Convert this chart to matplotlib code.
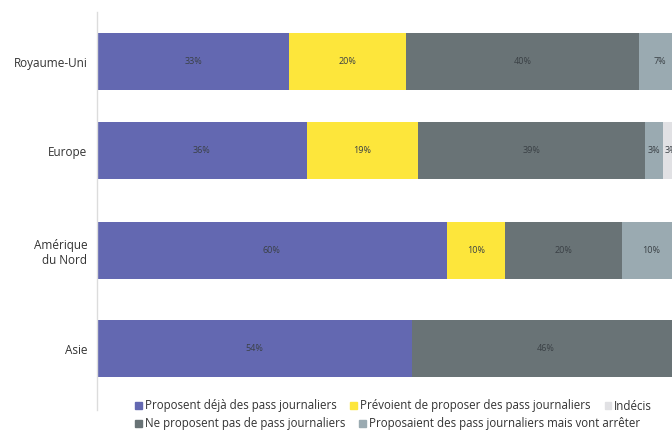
import matplotlib.pyplot as plt
from matplotlib.patches import Patch

plt.rcParams['font.family'] = ['Open Sans', 'DejaVu Sans']

regions = ['Royaume-Uni', 'Europe', 'Amérique\ndu Nord', 'Asie']
deja = [33, 36, 60, 54]
prevoient = [20, 19, 10, 0]
ne_proposent = [40, 39, 20, 46]
vont_arreter = [7, 3, 10, 0]
indecis = [0, 3, 0, 0]

series = [
    (deja, '#6368b1', 'Proposent déjà des pass journaliers'),
    (prevoient, '#fde63b', 'Prévoient de proposer des pass journaliers'),
    (ne_proposent, '#697376', 'Ne proposent pas de pass journaliers'),
    (vont_arreter, '#9aaab1', 'Proposaient des pass journaliers mais vont arrêter'),
    (indecis, '#e1e1e4', 'Indécis'),
]

fig = plt.figure(figsize=(6.72, 4.32), dpi=100)
# axes run past the right edge, so the last segments are cut off
ax = fig.add_axes([97 / 672, 22 / 432, 583 / 672, 398 / 432])

# row spacing is a little tighter between the first two rows
pos = [0, 0.93, 1.97, 3.0]
left = [0] * len(regions)
for values, color, name in series:
    ax.barh(pos, values, left=left, height=0.6, color=color, label=name)
    for i, v in enumerate(values):
        if v > 0:
            ax.text(left[i] + v / 2, pos[i], f'{v}%', ha='center', va='center',
                    fontsize=6.5, color='#3a4045')
    left = [l + v for l, v in zip(left, values)]

ax.set_xlim(0, 100)
ax.set_ylim(3.64, -0.52)
ax.set_yticks(pos)
ax.set_yticklabels(regions, fontsize=8.5, color='#333333', multialignment='right')
ax.tick_params(axis='y', length=0, pad=7)
ax.set_xticks([])
for s in ['top', 'right', 'bottom']:
    ax.spines[s].set_visible(False)
ax.spines['left'].set_color('#dcdcdc')
ax.spines['left'].set_linewidth(1)

sq = dict(handlelength=0.6, handleheight=0.6, handletextpad=0.25,
          frameon=False, fontsize=8.3, borderpad=0, borderaxespad=0)
row1 = [series[0], series[1], series[4]]
row2 = [series[2], series[3]]
leg1 = fig.legend([Patch(color=c) for _, c, _ in row1], [n for _, _, n in row1],
                  ncol=3, columnspacing=1.2, loc='center left',
                  bbox_to_anchor=(135 / 672, 1 - 406 / 432), **sq)
leg2 = fig.legend([Patch(color=c) for _, c, _ in row2], [n for _, _, n in row2],
                  ncol=2, columnspacing=1.2, loc='center left',
                  bbox_to_anchor=(135 / 672, 1 - 424 / 432), **sq)
for leg in (leg1, leg2):
    for t in leg.get_texts():
        t.set_color('#333333')

fig.savefig('out.png', dpi=100)
